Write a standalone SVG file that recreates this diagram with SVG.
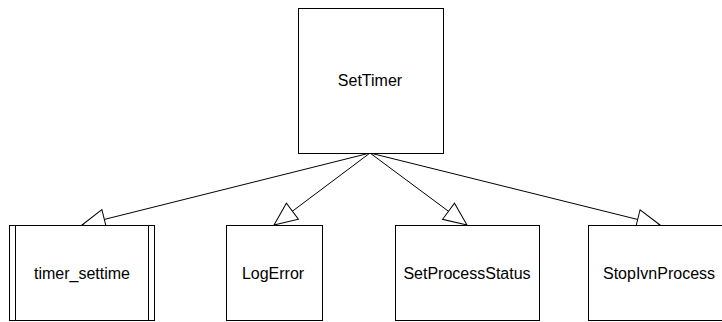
<svg xmlns="http://www.w3.org/2000/svg" width="722" height="322" viewBox="0 0 722 322">
<style>
.box{fill:#fff;stroke:#000;stroke-width:1}
.lbl{font-family:"Liberation Sans",Arial,sans-serif;font-size:16px;fill:#000;text-anchor:middle}
.edge{stroke:#000;stroke-width:1;fill:none}
</style>
<defs>
<marker id="tri" markerUnits="userSpaceOnUse" viewBox="-25 -12 26 24" refX="0" refY="0" markerWidth="26" markerHeight="24" orient="auto">
<path d="M0,0 L-23,-10 L-23,10 Z" fill="#fff" stroke="#000" stroke-width="1"/>
</marker>
</defs>
<rect width="722" height="322" fill="#fff"/>
<g id="edges">
<line class="edge" x1="370" y1="153" x2="82" y2="225" marker-end="url(#tri)"/>
<line class="edge" x1="370" y1="153" x2="274" y2="225" marker-end="url(#tri)"/>
<line class="edge" x1="370" y1="153" x2="467" y2="225" marker-end="url(#tri)"/>
<line class="edge" x1="370" y1="153" x2="660" y2="225" marker-end="url(#tri)"/>
</g>
<g id="SetTimer">
<rect class="box" x="298.5" y="8.5" width="145" height="145"/>
<text class="lbl" x="370" y="86">SetTimer</text>
</g>
<g id="timer_settime">
<rect class="box" x="9.5" y="225.5" width="145" height="95"/>
<line class="edge" x1="15.5" y1="225.5" x2="15.5" y2="320.5"/>
<line class="edge" x1="148.5" y1="225.5" x2="148.5" y2="320.5"/>
<text class="lbl" x="82" y="279">timer_settime</text>
</g>
<g id="LogError">
<rect class="box" x="226.5" y="225.5" width="96" height="95"/>
<text class="lbl" x="273" y="279">LogError</text>
</g>
<g id="SetProcessStatus">
<rect class="box" x="395.5" y="225.5" width="144" height="95"/>
<text class="lbl" x="467" y="279">SetProcessStatus</text>
</g>
<g id="StopIvnProcess">
<rect class="box" x="588.5" y="225.5" width="145" height="95"/>
<text class="lbl" x="659" y="279">StopIvnProcess</text>
</g>
</svg>
